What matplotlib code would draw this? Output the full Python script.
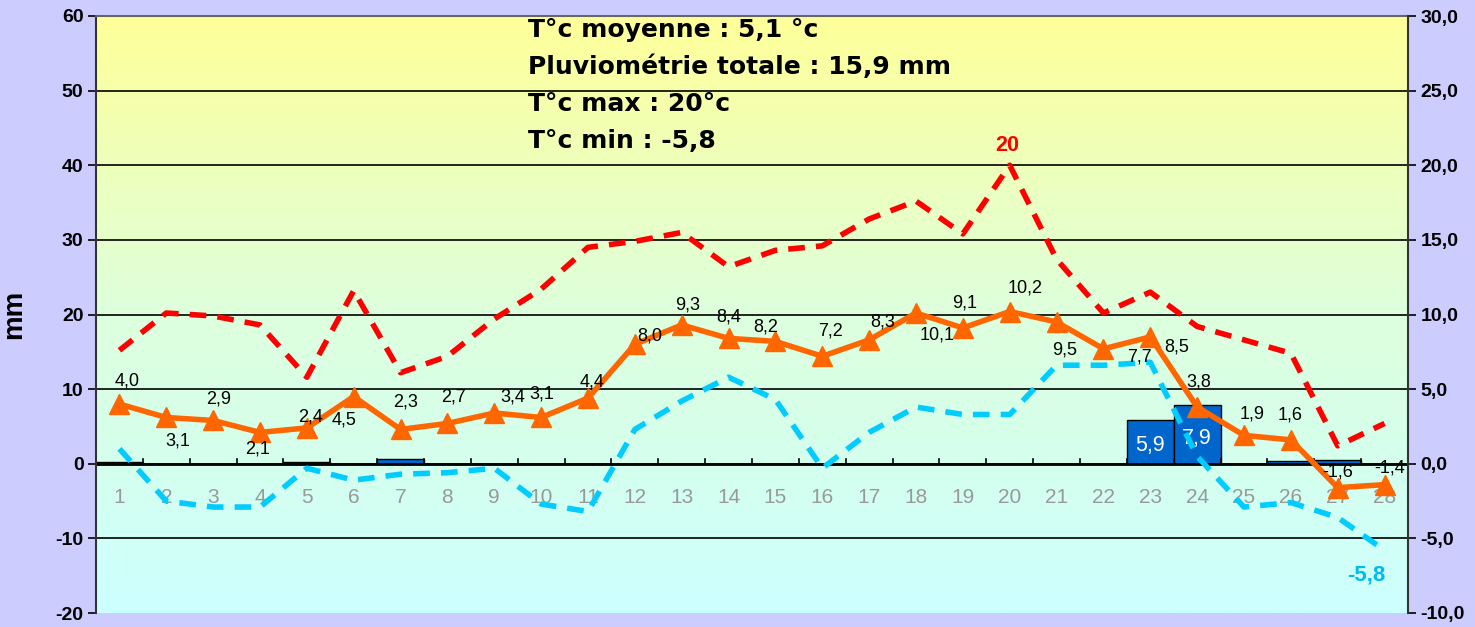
import matplotlib
matplotlib.use("Agg")
import matplotlib.pyplot as plt
import numpy as np
from matplotlib.colors import LinearSegmentedColormap

plt.rcParams['font.family'] = ['Liberation Sans', 'DejaVu Sans']
plt.rcParams['axes.unicode_minus'] = False

days = list(range(1, 29))
day_labels = [str(d) for d in days]
rain_mm = [0.3, 0, 0, 0, 0.3, 0, 0.6, 0, 0, 0, 0, 0, 0, 0, 0, 0, 0, 0, 0, 0,
           0, 0, 5.9, 7.9, 0, 0.4, 0.5, 0]
t_mean = [4.0, 3.1, 2.9, 2.1, 2.4, 4.5, 2.3, 2.7, 3.4, 3.1, 4.4, 8.0, 9.3, 8.4,
          8.2, 7.2, 8.3, 10.1, 9.1, 10.2, 9.5, 7.7, 8.5, 3.8, 1.9, 1.6, -1.6, -1.4]
t_max = [7.6, 10.1, 9.9, 9.3, 5.8, 11.6, 6.1, 7.2, 9.7, 11.7, 14.5, 14.9, 15.5, 13.2,
         14.3, 14.6, 16.4, 17.6, 15.4, 20.0, 13.7, 10.1, 11.5, 9.2, 8.3, 7.4, 1.2, 2.7]
t_min = [1.0, -2.5, -2.9, -2.9, -0.3, -1.1, -0.7, -0.6, -0.3, -2.7, -3.2, 2.3, 4.2, 5.8,
         4.3, -0.3, 2.1, 3.8, 3.3, 3.3, 6.6, 6.6, 6.8, 0.5, -2.9, -2.6, -3.6, -5.8]
info_lines = ["T°c moyenne : 5,1 °c", "Pluviométrie totale : 15,9 mm",
              "T°c max : 20°c", "T°c min : -5,8"]

# label offsets in pixels (dx, dy downwards) for mean temperature labels
lab_off = [(8, -23), (11, 24), (5, -21), (-2, 17), (4, -11), (-10, 23), (5, -27),
           (6, -26), (18, -16), (1, -23), (4, -16), (15, -8), (6, -20), (0, -21),
           (-10, -14), (8, -25), (14, -18), (21, 22), (2, -25), (15, -24), (8, 28),
           (36, 8), (26, 10), (2, -25), (8, -21), (-1, -25), (0, -16), (5, -17)]

W, H = 1475, 627
fig = plt.figure(figsize=(W / 100, H / 100), dpi=100)
fig.patch.set_facecolor('#CCCCFF')
L, R, T, B = 96, 1408, 16, 613
ax = fig.add_axes([L / W, 1 - B / H, (R - L) / W, (B - T) / H])
ax.set_xlim(0.5, 28.5)
ax.set_ylim(-20, 60)

# gradient background
cmap = LinearSegmentedColormap.from_list('bg', ['#CCFFFF', '#DDFFDD', '#FFFF99'])
grad = np.linspace(0, 1, 256).reshape(-1, 1)
ax.imshow(grad, aspect='auto', cmap=cmap, origin='lower',
          extent=[0.5, 28.5, -20, 60], zorder=0)

# gridlines
for yv in range(-10, 60, 10):
    ax.axhline(yv, color='black', lw=1.2, zorder=1)

# bars
ax.bar(days, rain_mm, width=1.0, color='#0066CC', edgecolor='black',
       lw=1.0, zorder=2)
for d, v in zip(days, rain_mm):
    if v > 1:
        ax.text(d, v * 0.42, f"{v:.1f}".replace('.', ','), color='white',
                ha='center', va='center', fontsize=15.5, zorder=3)

ax.axhline(0, color='black', lw=2, zorder=2.5)
for xb in np.arange(1.5, 28.5, 1):
    ax.plot([xb, xb], [0, 0.7], color='black', lw=1.2, zorder=2.5)

for d, lab in zip(days, day_labels):
    ax.text(d, -4.5, lab, color='#999999', ha='center', va='center',
            fontsize=15, zorder=3)

ax.set_xticks([])
ax.set_yticks(range(-20, 61, 10))
ax.tick_params(axis='y', labelsize=14, length=6, width=1.2, pad=3)
for lbl in ax.get_yticklabels():
    lbl.set_fontweight('bold')
ax.set_ylabel('mm', fontsize=20, fontweight='bold', labelpad=20)
for s in ['right', 'bottom']:
    ax.spines[s].set_visible(False)
ax.spines['left'].set_color('#333333')
ax.spines['left'].set_linewidth(1.5)
ax.spines['top'].set_color('#666666')
ax.spines['top'].set_linewidth(1.5)

ax2 = ax.twinx()
ax2.set_ylim(-10, 30)
ax2.set_xlim(0.5, 28.5)
ax2.plot(days, t_max, color='#FF0000', lw=4, dashes=(3, 2), zorder=4)
ax2.plot(days, t_min, color='#00CCFF', lw=4, dashes=(3, 2), zorder=4)
ax2.plot(days, t_mean, color='#FF6600', lw=4, marker='^', markersize=14,
         zorder=5)
for d, v, (dx, dy) in zip(days, t_mean, lab_off):
    ax2.annotate(f"{v:.1f}".replace('.', ','), (d, v),
                 xytext=(dx / 1.389, -dy / 1.389), textcoords='offset points',
                 ha='center', va='center', fontsize=13, zorder=6)

imax = int(np.argmax(t_max))
ax2.annotate(f"{t_max[imax]:g}", (days[imax], t_max[imax]), xytext=(-2, 14),
             textcoords='offset points', ha='center', va='center',
             color='#FF0000', fontsize=15.5, fontweight='bold')
imin = int(np.argmin(t_min))
ax2.annotate(f"{t_min[imin]:.1f}".replace('.', ','), (days[imin], t_min[imin]),
             xytext=(-13, -18), textcoords='offset points', ha='center',
             va='center', color='#00BBEE', fontsize=16, fontweight='bold')

ax2.set_yticks(range(-10, 31, 5))
ax2.set_yticklabels([f"{v:.1f}".replace('.', ',') for v in range(-10, 31, 5)])
ax2.tick_params(axis='y', labelsize=14, length=6, width=1.2, pad=3)
for lbl in ax2.get_yticklabels():
    lbl.set_fontweight('bold')
for s in ['top', 'left', 'bottom']:
    ax2.spines[s].set_visible(False)
ax2.spines['right'].set_color('#333333')
ax2.spines['right'].set_linewidth(1.5)

for i, line in enumerate(info_lines):
    fig.text(528 / W, 1 - (30 + 37 * i) / H, line, fontsize=18,
             family='DejaVu Sans', fontweight='bold', ha='left', va='center')

fig.savefig('out.png', dpi=100, facecolor=fig.get_facecolor())
